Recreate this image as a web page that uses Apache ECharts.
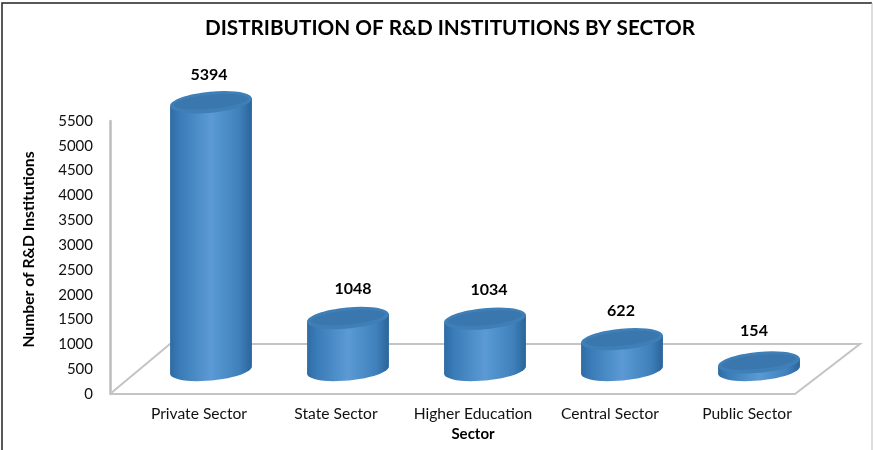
<!DOCTYPE html>
<html><head><meta charset="utf-8">
<style>html,body{margin:0;padding:0;background:#fff}#c{width:873px;height:450px}</style>
<script src="https://cdn.jsdelivr.net/npm/echarts@6/dist/echarts.min.js"></script></head>
<body><div id="c"></div>
<script>
const categories = ['Private Sector','State Sector','Higher Education','Central Sector','Public Sector'];
const values = [5394,1048,1034,622,154];
const yTicks = {min:0,max:5500,interval:500};

const FONT = 'Lato, "Open Sans", sans-serif';
const DX = 12, DY = 24, RY = 10.5, TILT = 0.095;
const labelNudge = [-2,5,4,-1,-5];
const labelLift = [27,29,29,28,32];

const chart = echarts.init(document.getElementById('c'),null,{renderer:'canvas'});

function renderFloor(params, api){
  const o = api.coord([0,0]);
  const band = api.size([1,0])[0];
  const fl = o[0] - band/2 - 20.5;
  const fr = fl + band*5;
  const y = o[1], by = y-50;
  const s = {stroke:'#c4c4c4',lineWidth:2,fill:'none'};
  return {type:'group',children:[
    {type:'polyline',shape:{points:[[fl,y],[fr,y],[fr+65,by],[fl+60,by],[fl,y]]},style:s}
  ]};
}

function lowerHalf(cx, cy, rx, ry, r){
  const pts = [];
  for(let k=0;k<=24;k++){
    const t = Math.PI*k/24, x = rx*Math.cos(t), y = ry*Math.sin(t);
    pts.push([cx + x*Math.cos(r) + y*Math.sin(r), cy - x*Math.sin(r) + y*Math.cos(r)]);
  }
  return pts;
}

function renderCylinder(params, api){
  const base = api.coord([api.value(0),0]);
  const top = api.coord([api.value(0),api.value(1)]);
  const w = api.size([1,0])[0]*0.6, rx = w/2;
  const cx = base[0]+DX, by = base[1]-DY, ty = top[1]-DY;
  const grad = new echarts.graphic.LinearGradient(0,0,1,0,[
    {offset:0,color:'#2f6ba3'},{offset:0.12,color:'#3a7cb8'},
    {offset:0.5,color:'#5b9ad4'},{offset:0.85,color:'#3f80bb'},{offset:1,color:'#2a6499'}]);
  const pts = lowerHalf(cx,by,rx,RY,TILT);
  const first = pts[0], last = pts[pts.length-1];
  const tr = [first[0], ty + (first[1]-by)], tl = [last[0], ty + (last[1]-by)];
  const outline = [tr].concat(pts).concat([tl]);
  return {type:'group',children:[
    {type:'polygon',shape:{points:outline},style:{fill:grad}},
    {type:'ellipse',shape:{cx:0,cy:0,rx:rx,ry:RY},x:cx,y:ty,rotation:TILT,style:{fill:'#3f7fb8'}},
    {type:'ellipse',shape:{cx:0,cy:0,rx:rx-4,ry:RY-3.5},x:cx,y:ty-0.5,rotation:TILT,style:{fill:'#3a77ae'}},
    {type:'text',x:cx+labelNudge[params.dataIndex],y:ty-labelLift[params.dataIndex],
      style:{text:String(api.value(1)),font:'bold 16px '+FONT,fill:'#000',align:'center',verticalAlign:'middle'}}
  ]};
}

chart.setOption({
  animation:false,
  backgroundColor:'#fff',
  graphic:[
    {type:'polyline',shape:{points:[[2,450],[2,3],[872,3]]},style:{fill:'none',stroke:'#222',lineWidth:1.5},z:100,silent:true},
    {type:'line',shape:{x1:872,y1:3,x2:872,y2:450},style:{stroke:'#bbb',lineWidth:1},z:100,silent:true}
  ],
  title:{text:'DISTRIBUTION OF R&D INSTITUTIONS BY SECTOR',left:445,textAlign:'center',top:13,
    textStyle:{fontFamily:FONT,fontWeight:'bold',fontSize:20.7,color:'#000'}},
  grid:{left:130.5,width:685,top:121,bottom:56,containLabel:false},
  xAxis:{type:'category',data:categories,name:'Sector',nameLocation:'middle',nameGap:33,
    nameTextStyle:{fontFamily:FONT,fontWeight:'bold',fontSize:15,color:'#000'},
    axisLine:{show:false},axisTick:{show:false},
    axisLabel:{fontFamily:FONT,fontSize:15.6,color:'#111',margin:12,interval:0}},
  yAxis:{type:'value',min:yTicks.min,max:yTicks.max,interval:yTicks.interval,offset:20.5,
    name:'Number of R&D Institutions',nameLocation:'middle',nameGap:73,nameRotate:90,
    nameTextStyle:{fontFamily:FONT,fontWeight:'bold',fontSize:15.7,color:'#000',padding:[0,0,0,16]},
    axisLine:{show:true,lineStyle:{color:'#bdbdbd',width:2.5}},axisTick:{show:false},splitLine:{show:false},
    axisLabel:{fontFamily:FONT,fontSize:15,color:'#111',margin:17,formatter:v=>String(v)}},
  series:[
    {type:'custom',name:'floor',silent:true,z:1,clip:false,data:[[0,0]],renderItem:renderFloor,encode:{x:0,y:1}},
    {type:'custom',name:'R&D Institutions',z:2,clip:false,renderItem:renderCylinder,
      data:values.map((v,i)=>[i,v]),encode:{x:0,y:1}}
  ]
});
</script></body></html>
